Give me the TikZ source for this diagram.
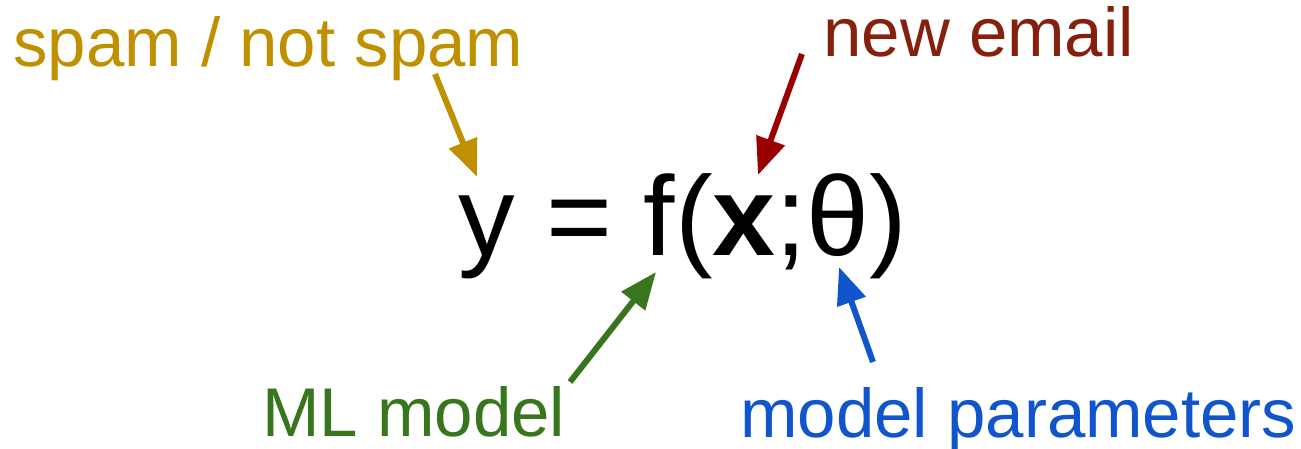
\documentclass[tikz,border=0pt]{standalone}
\usepackage{fontspec}
\setmainfont{Liberation Sans}
\usetikzlibrary{arrows.meta}
\definecolor{gold}{HTML}{BF9000}
\definecolor{wine}{HTML}{85200C}
\definecolor{arrred}{HTML}{990000}
\definecolor{leaf}{HTML}{38761D}
\definecolor{sky}{HTML}{1155CC}

\begin{document}
\begin{tikzpicture}[x=0.5pt,y=-0.5pt,>={Triangle[length=18.5pt,width=14.5pt]},
  lbl/.style={anchor=base west,inner sep=0pt,font=\fontsize{34.5}{40}\selectfont},
  ptr/.style={->,line width=3pt}]
\useasboundingbox (0,0) rectangle (1301,449);
\node[lbl,text=gold] (target) at (13,67){spam / not spam};
\node[lbl,text=wine] (input) at (823,57){new email};
\node[lbl,text=leaf] (model) at (262,436){ML model};
\node[lbl,text=sky] (params) at (740,437){model parameters};
\node[anchor=base west,inner sep=0pt,font=\fontsize{56.5}{64}\selectfont] (eq) at (458,255){y = f(\textbf{x};θ)};
\coordinate (ytip) at (477,177); \coordinate (xtip) at (758,175);
\coordinate (ftip) at (656,272); \coordinate (ttip) at (839,267);
\coordinate (ys) at (435,74); \coordinate (xs) at (802,54);
\coordinate (fs) at (570,382); \coordinate (ts) at (873,362);
\draw[ptr,gold] (ys)--(ytip); \draw[ptr,arrred] (xs)--(xtip);
\draw[ptr,leaf] (fs)--(ftip); \draw[ptr,sky] (ts)--(ttip);
\end{tikzpicture}
\end{document}
